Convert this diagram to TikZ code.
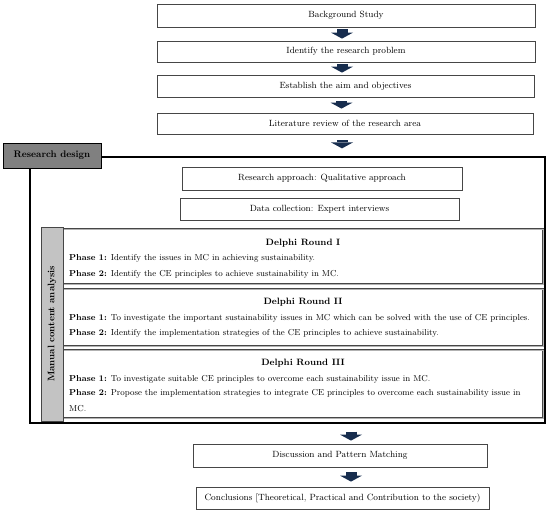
\documentclass[tikz,border=0pt]{standalone}
\usetikzlibrary{arrows.meta}
\definecolor{arrowc}{RGB}{23,45,78}
\definecolor{rdgray}{RGB}{128,128,128}
\definecolor{mcagray}{RGB}{195,195,195}
\definecolor{boxline}{RGB}{70,70,70}
\tikzset{
  txt/.style={font=\fontsize{9}{11}\selectfont},
  stage/.style={draw=boxline, line width=0.8pt, rectangle, inner sep=0pt, txt},
  blk/.style={draw=arrowc, line width=11pt, -{Triangle[width=22pt,length=6pt,line width=0pt]}},
  round/.style={draw=boxline, line width=0.7pt, double=gray!60, double distance=0.5pt, rectangle, inner sep=0pt},
  phase/.style={font=\fontsize{8.65}{16}\selectfont, anchor=west, inner sep=0pt, align=left},
  rtitle/.style={font=\fontsize{9.2}{11}\selectfont\bfseries, inner sep=0pt},
}
\begin{document}
\begin{tikzpicture}[x=1pt,y=-1pt]
\useasboundingbox (0,0) rectangle (550,514);
% top stages
\node[stage, minimum width=378, minimum height=23] (b1) at (346,15.5) {Background Study};
\node[stage, minimum width=378, minimum height=21] (b2) at (346,51.5) {Identify the research problem};
\node[stage, minimum width=377, minimum height=22] (b3) at (345.5,86) {Establish the aim and objectives};
\node[stage, minimum width=376, minimum height=21] (b4) at (345,123.5) {Literature review of the research area};
% outer frame
\node[draw=black, line width=1.2pt, rectangle, minimum width=515, minimum height=266, inner sep=0pt] (frame) at (287.5,290) {};
\node[draw=black, line width=0.9pt, fill=rdgray, rectangle, minimum width=98, minimum height=25, inner sep=0pt, font=\fontsize{9.5}{11}\selectfont\bfseries] (rd) at (52,155.5) {Research design};
% approach / data collection
\node[stage, minimum width=280, minimum height=23] (ra) at (322,178.5) {Research approach: Qualitative approach};
\node[stage, minimum width=279, minimum height=22] (dc) at (319.5,209) {Data collection: Expert interviews};
% Delphi rounds
\node[round, minimum width=480, minimum height=55] (r1) at (303,256.5) {};
\node[round, minimum width=480, minimum height=57] (r2) at (303,317.5) {};
\node[round, minimum width=480, minimum height=68] (r3) at (303,384) {};
\node[draw=boxline, line width=0.8pt, fill=mcagray, rectangle, minimum width=22, minimum height=194, inner sep=0pt] (mca) at (52,324) {};
\node[rotate=90, font=\fontsize{9.5}{11}\selectfont\bfseries] (mcat) at (mca.center) {Manual content analysis};
% Round I
\node[rtitle] (t1) at (303,243) {Delphi Round I};
\node[phase] (p11) at (69,258) {\textbf{Phase 1:} Identify the issues in MC in achieving sustainability.};
\node[phase] (p12) at (69,274) {\textbf{Phase 2:} Identify the CE principles to achieve sustainability in MC.};
% Round II
\node[rtitle] (t2) at (303,302) {Delphi Round II};
\node[phase] (p21) at (69,318) {\textbf{Phase 1:} To investigate the important sustainability issues in MC which can be solved with the use of CE principles.};
\node[phase] (p22) at (69,333) {\textbf{Phase 2:} Identify the implementation strategies of the CE principles to achieve sustainability.};
% Round III
\node[rtitle] (t3) at (303,363) {Delphi Round III};
\node[phase] (p31) at (69,379) {\textbf{Phase 1:} To investigate suitable CE principles to overcome each sustainability issue in MC.};
\node[phase, anchor=north west] (p32) at (69,389.5) {\textbf{Phase 2:} Propose the implementation strategies to integrate CE principles to overcome each sustainability issue in\\MC.};
% bottom stages
\node[stage, minimum width=294, minimum height=23] (disc) at (340,455.5) {Discussion and Pattern Matching};
\node[stage, minimum width=293, minimum height=22] (conc) at (342.5,498) {Conclusions [Theoretical, Practical and Contribution to the society)};
% block arrows
\draw[blk, shorten <=2pt, shorten >=2pt] ([xshift=-4pt]b1.south) -- ([xshift=-4pt]b1.south |- b2.north);
\draw[blk, shorten <=2pt, shorten >=2pt] ([xshift=-4pt]b2.south) -- ([xshift=-4pt]b2.south |- b3.north);
\draw[blk, shorten <=4pt, shorten >=4pt] ([xshift=-4pt]b3.south) -- ([xshift=-4pt]b3.south |- b4.north);
\draw[blk, shorten <=6pt, shorten >=8pt] ([xshift=-3pt]b4.south) -- ([xshift=-3pt]b4.south |- frame.north);
\draw[blk, shorten <=8pt, shorten >=3pt] ([xshift=11pt]disc.north |- frame.south) -- ([xshift=11pt]disc.north);
\draw[blk, shorten <=5pt, shorten >=5pt] ([xshift=11pt]disc.south) -- ([xshift=11pt]disc.south |- conc.north);
\end{tikzpicture}
\end{document}
